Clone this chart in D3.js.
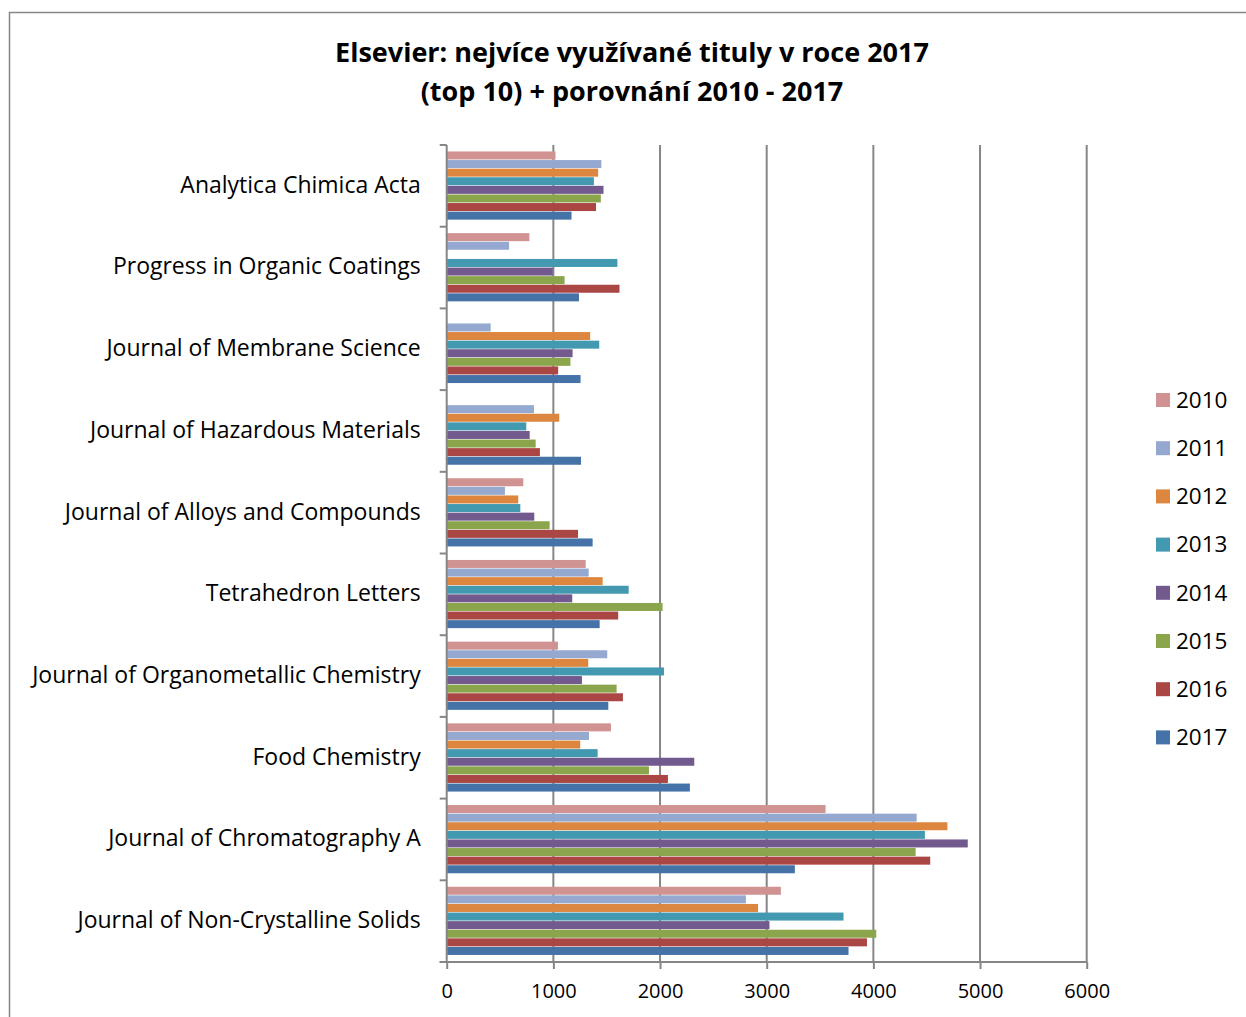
<!DOCTYPE html>
<html><head><meta charset="utf-8">
<script src="https://cdn.jsdelivr.net/npm/d3@7"></script>
<style>body{margin:0;background:#fff}svg{display:block}</style>
</head><body>
<svg id="c" width="1246" height="1017"></svg>
<script>
const categories = ["Analytica Chimica Acta","Progress in Organic Coatings","Journal of Membrane Science","Journal of Hazardous Materials","Journal of Alloys and Compounds","Tetrahedron Letters","Journal of Organometallic Chemistry","Food Chemistry","Journal of Chromatography A","Journal of Non-Crystalline Solids"];
const years = ["2010","2011","2012","2013","2014","2015","2016","2017"];
const colors = ["#D09391","#95A9D0","#DD8640","#4399B0","#725A8E","#8AA54B","#AA4644","#4572A7"];
const v2010 = [1020,775,0,0,718,1303,1043,1540,3552,3133];
const v2011 = [1450,585,412,818,546,1331,1505,1334,4406,2805];
const v2012 = [1420,0,1345,1055,671,1462,1327,1252,4694,2919];
const v2013 = [1380,1600,1430,746,690,1706,2037,1415,4483,3720];
const v2014 = [1470,995,1180,778,821,1177,1268,2321,4885,3026];
const v2015 = [1445,1105,1160,834,965,2024,1593,1896,4396,4027];
const v2016 = [1400,1620,1045,874,1231,1608,1652,2074,4533,3940];
const v2017 = [1170,1240,1255,1259,1368,1434,1515,2280,3264,3767];
const xTicks = [0,1000,2000,3000,4000,5000,6000];
const series = [v2010,v2011,v2012,v2013,v2014,v2015,v2016,v2017];
const titleLines = ["Elsevier: nejvíce využívané tituly v roce 2017","(top 10) + porovnání 2010 - 2017"];

const svg = d3.select("#c");
const font = "Open Sans, sans-serif";
svg.append("rect").attr("x",9.5).attr("y",12.5).attr("width",1260).attr("height",1020)
  .attr("fill","#fff").attr("stroke","#868686").attr("stroke-width",1.5);

const L=446.7, R=1086.7, T=145, B=962;
const x = d3.scaleLinear().domain([0,6000]).range([L,R]);
const y0 = d3.scaleBand().domain(categories).range([T,B]).paddingInner(0).paddingOuter(0);
const y1 = d3.scaleBand().domain(years).range([0,y0.bandwidth()]).paddingOuter(0.75).paddingInner(0);
// gridlines
svg.append("g").selectAll("line").data(xTicks.slice(1)).join("line")
  .attr("x1",d=>x(d)).attr("x2",d=>x(d)).attr("y1",T).attr("y2",B)
  .attr("stroke","#868686").attr("stroke-width",2);

// bars
const g = svg.append("g");
years.forEach((yr,si)=>{
  g.selectAll(null).data(categories).join("rect")
   .attr("x",x(0)).attr("y",(c)=>y0(c)+y1(yr))
   .attr("width",(c,i)=>x(series[si][i])-x(0))
   .attr("height",y1.bandwidth()-0.6)
   .attr("fill",colors[si])
   .attr("display",(c,i)=>series[si][i]>0?null:"none");
});

// x axis
const xa = svg.append("g").attr("transform",`translate(0,${B})`).call(d3.axisBottom(x).tickValues(xTicks).tickSize(7).tickSizeOuter(0).tickFormat(d3.format("d")));
xa.select(".domain").attr("stroke","#868686").attr("stroke-width",2).attr("d",`M${L-7},0H${R}`);
xa.selectAll(".tick line").attr("stroke","#868686").attr("stroke-width",2);
xa.selectAll(".tick text").attr("font-family",font).attr("font-size",20).attr("fill","#000").attr("dy","1.3em");

// y axis
const ya = svg.append("g").attr("transform",`translate(${L},0)`);
ya.append("line").attr("x1",0).attr("x2",0).attr("y1",T).attr("y2",B).attr("stroke","#868686").attr("stroke-width",2);
const bounds = categories.map(c=>y0(c)).concat([B]);
ya.selectAll(".bt").data(bounds).join("line").attr("class","bt")
  .attr("x1",-7).attr("x2",0).attr("y1",d=>d).attr("y2",d=>d).attr("stroke","#868686").attr("stroke-width",2);
ya.selectAll("text").data(categories).join("text")
  .attr("x",-26).attr("y",c=>y0(c)+y0.bandwidth()/2).attr("dy","0.3em")
  .attr("text-anchor","end").attr("font-family",font).attr("font-size",23).attr("fill","#000").text(d=>d);

// title
svg.selectAll(".title").data(titleLines).join("text").attr("class","title")
  .attr("x",632).attr("y",(d,i)=>62+i*39).attr("text-anchor","middle")
  .attr("font-family",font).attr("font-weight","bold").attr("font-size",27).attr("fill","#000").text(d=>d);

// legend
const lg = svg.append("g");
years.forEach((yr,i)=>{
  const yy = 400 + i*48.2;
  lg.append("rect").attr("x",1156).attr("y",yy-7).attr("width",14).attr("height",14).attr("fill",colors[i]);
  lg.append("text").attr("x",1176).attr("y",yy).attr("dy","0.35em").attr("font-family",font).attr("font-size",22.5).attr("fill","#000").text(yr);
});
</script>
</body></html>
